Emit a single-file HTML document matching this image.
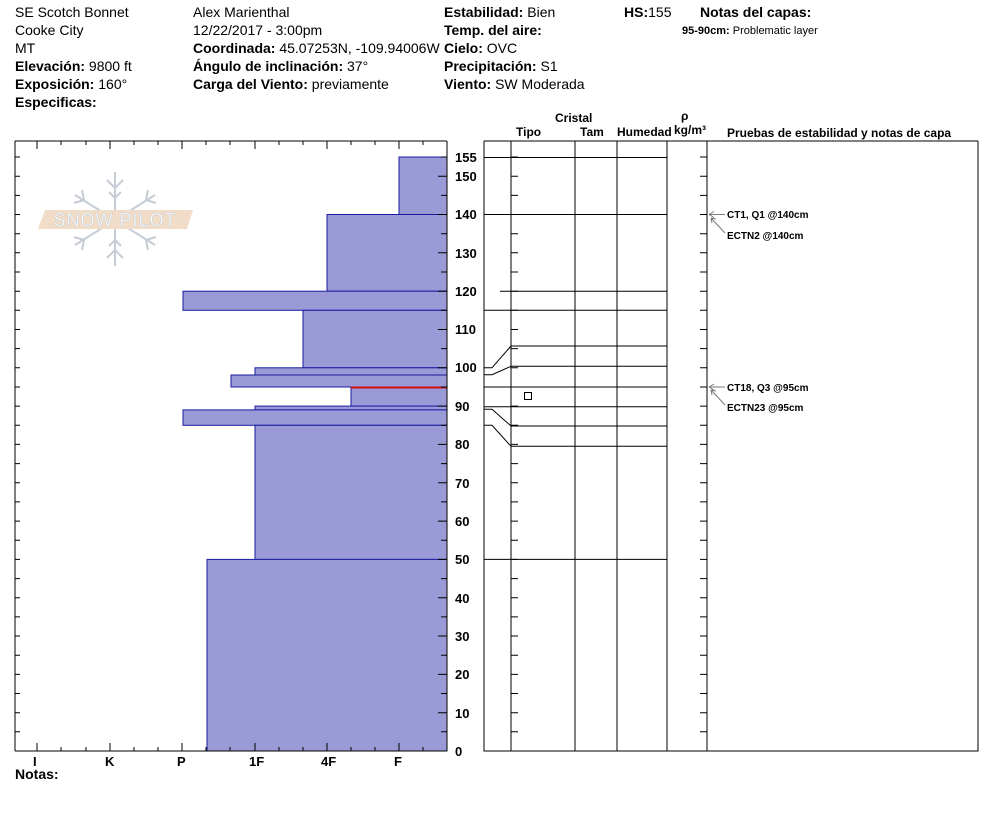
<!DOCTYPE html>
<html><head><meta charset="utf-8"><style>
body{margin:0;background:#fff;width:994px;height:840px;overflow:hidden}
svg{display:block}
text{font-family:"Liberation Sans",Arial,sans-serif;fill:#000}
.h{font-size:14px}
.b{font-weight:bold}
.s{font-size:12px;font-weight:bold}
.n{font-size:13px;font-weight:bold}
.a{font-size:10px;font-weight:bold}
</style></head><body>
<svg id="s" width="994" height="840" xmlns="http://www.w3.org/2000/svg">
<g class="h">
<text x="15" y="17">SE Scotch Bonnet</text>
<text x="15" y="35">Cooke City</text>
<text x="15" y="53">MT</text>
<text x="15" y="71"><tspan class="b">Elevación:</tspan> 9800 ft</text>
<text x="15" y="89"><tspan class="b">Exposición:</tspan> 160°</text>
<text x="15" y="107" class="b">Especificas:</text>
<text x="193" y="17">Alex Marienthal</text>
<text x="193" y="35">12/22/2017 - 3:00pm</text>
<text x="193" y="53"><tspan class="b">Coordinada:</tspan> 45.07253N, -109.94006W</text>
<text x="193" y="71"><tspan class="b">Ángulo de inclinación:</tspan> 37°</text>
<text x="193" y="89"><tspan class="b">Carga del Viento:</tspan> previamente</text>
<text x="444" y="17"><tspan class="b">Estabilidad:</tspan> Bien</text>
<text x="444" y="35" class="b">Temp. del aire:</text>
<text x="444" y="53"><tspan class="b">Cielo:</tspan> OVC</text>
<text x="444" y="71"><tspan class="b">Precipitación:</tspan> S1</text>
<text x="444" y="89"><tspan class="b">Viento:</tspan>  SW Moderada</text>
<text x="624" y="17"><tspan class="b">HS:</tspan>155</text>
<text x="700" y="17" class="b">Notas del capas:</text>
</g>
<text x="682" y="34" style="font-size:11px"><tspan class="b">95-90cm:</tspan> Problematic layer</text>

<!-- logo -->
<g stroke="#c5ccd6" stroke-width="2" fill="none">
<line x1="115" y1="172" x2="115" y2="266"/>
<line x1="75" y1="195" x2="155" y2="245"/>
<line x1="75" y1="245" x2="155" y2="195"/>
<path d="M107 180l8 8 8-8M107 258l8-8 8 8M82 190l2 10-10 3M148 190l-2 10 10 3M82 250l2-10-10-3M148 250l-2-10 10-3M109 192l6 6 6-6M109 246l6-6 6 6"/>
</g>
<polygon points="45,210 193,210 187,229 38,229" fill="#f1dcc8"/>
<text x="115" y="226" text-anchor="middle" style="font-size:18px;fill:#fff;stroke:#c9cfd6;stroke-width:0.6;letter-spacing:1px">SNOW PILOT</text>

<!-- hardness bars -->
<g fill="#9a9bd6" stroke="#1a1aa0" stroke-width="1">
<rect x="399" y="157" width="48" height="57.5"/>
<rect x="327" y="214.5" width="120" height="76.7"/>
<rect x="183" y="291.2" width="264" height="19.1"/>
<rect x="303" y="310.3" width="144" height="57.5"/>
<rect x="255" y="367.8" width="192" height="7.2"/>
<rect x="231" y="375" width="216" height="12"/>
<rect x="351" y="387" width="96" height="19.1"/>
<rect x="255" y="406.1" width="192" height="3.8"/>
<rect x="183" y="409.9" width="264" height="15.4"/>
<rect x="255" y="425.3" width="192" height="134.1"/>
<rect x="207" y="559.4" width="240" height="191.6"/>
</g>
<line x1="351" y1="387.5" x2="447" y2="387.5" stroke="#d01010" stroke-width="2"/>

<g id="ax" stroke="#000" stroke-width="1" fill="none">
<path d="M15 141H447M15 141V751M15 751H447M447 141V751"/>
<path d="M484 141H978M484 141V751H978V141M511 141V751M575 141V751M617 141V751M667 141V751M707 141V751"/>
<path d="M484 157.5H667M484 214.5H667M500 291.2H667M484 310.3H667M511 346H667M511 366.3H667M484 387H667M484 406.7H667M511 426H667M511 446.3H667M484 559.4H667"/>
<path d="M484 367.8H492L511 346M484 374.7H492L511 366.3M484 409.3H492L511 426M484 425.3H492L511 446.3"/>
<rect x="524.5" y="392.5" width="7" height="7"/>
</g>
<g fill="none" stroke="#7a7a7a" stroke-width="1">
<path d="M709 214.5H725M709 214.5l5-3M709 214.5l5 3M725 233L711 218M711 218l1 5M711 218l5 1"/>
<path d="M709 387H725M709 387l5-3M709 387l5 3M725 405L711 390M711 390l1 5M711 390l5 1"/>
</g>
<text class="a" x="727" y="218">CT1, Q1 @140cm</text>
<text class="a" x="727" y="239">ECTN2 @140cm</text>
<text class="a" x="727" y="391">CT18, Q3 @95cm</text>
<text class="a" x="727" y="411">ECTN23 @95cm</text>

<g class="s">
<text x="555" y="122">Cristal</text>
<text x="516" y="136">Tipo</text>
<text x="580" y="136">Tam</text>
<text x="617" y="136">Humedad</text>
<text x="681" y="120">ρ</text>
<text x="674" y="134">kg/m³</text>
<text x="727" y="137">Pruebas de estabilidad y notas de capa</text>
</g>
<g class="n">
<text x="455" y="162">155</text>
<text x="455" y="181">150</text>
<text x="455" y="219">140</text>
<text x="455" y="258">130</text>
<text x="455" y="296">120</text>
<text x="455" y="334">110</text>
<text x="455" y="372">100</text>
<text x="455" y="411">90</text>
<text x="455" y="449">80</text>
<text x="455" y="488">70</text>
<text x="455" y="526">60</text>
<text x="455" y="564">50</text>
<text x="455" y="603">40</text>
<text x="455" y="641">30</text>
<text x="455" y="679">20</text>
<text x="455" y="718">10</text>
<text x="455" y="756">0</text>
</g>
<g class="n">
<text x="33" y="766">I</text>
<text x="105" y="766">K</text>
<text x="177" y="766">P</text>
<text x="249" y="766">1F</text>
<text x="321" y="766">4F</text>
<text x="394" y="766">F</text>
<text x="15" y="779" style="font-size:14px">Notas:</text>
</g>
</svg>
<script>
var s=document.getElementById('ax'),d='';
for(var h=0;h<=155;h+=5){var y=(751-3.832*h).toFixed(1);var L=(h%10==0)?9:6;
d+='M'+(447-L)+' '+y+'H447M511 '+y+'H518M700 '+y+'H707M15 '+y+'H20';}
var xs=[15,37,61,86,110,134,158,182,206,230,255,279,303,327,351,375,399,423,447];
for(var i=0;i<xs.length;i++){var L=((i-1)%3==0)?8:4;d+='M'+xs[i]+' 141V'+(141+L)+'M'+xs[i]+' 751V'+(751-L);}
var p=document.createElementNS('http://www.w3.org/2000/svg','path');p.setAttribute('d',d);s.appendChild(p);
</script>
</body></html>
